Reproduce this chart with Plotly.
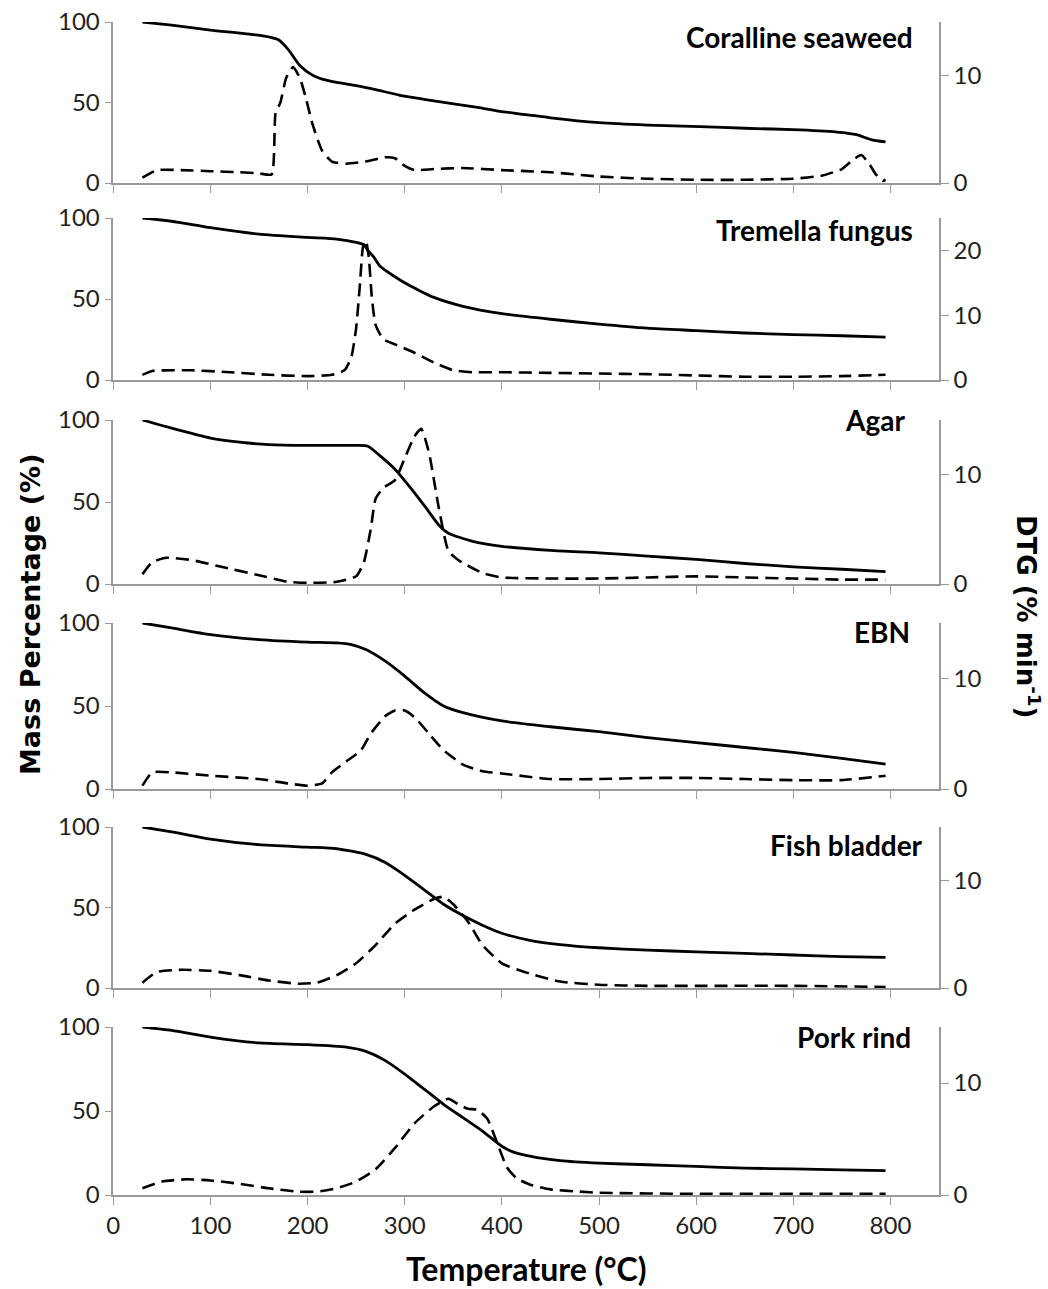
import plotly.graph_objects as go

# ---------------- data ----------------
names = ["Coralline seaweed", "Tremella fungus", "Agar", "EBN", "Fish bladder", "Pork rind"]

cor_mass_t = [30, 60, 100, 140, 162, 170, 180, 192, 205, 215, 230, 250, 270, 295, 320, 347, 375, 398, 425, 450, 500, 550, 604, 650, 707, 748, 765, 780, 795]
cor_mass_v = [100, 98, 95, 92.5, 90.5, 89, 83, 73, 67, 64.5, 62.5, 60.5, 58, 54.5, 52, 49.5, 47, 44.5, 42.5, 40.5, 37.5, 36, 35, 34, 33, 31.5, 30, 27, 25.5]
cor_dtg_t = [30, 45, 70, 100, 130, 150, 163, 167, 172, 178, 185, 192, 198, 205, 215, 225, 240, 260, 280, 290, 300, 310, 330, 360, 400, 450, 500, 550, 600, 650, 700, 730, 750, 762, 770, 778, 785, 792, 795]
cor_dtg_v = [0.5, 1.2, 1.2, 1.1, 1.0, 0.9, 0.8, 6.5, 7.5, 9.8, 10.8, 9.8, 8, 5.5, 3, 2, 1.8, 2.0, 2.4, 2.3, 1.6, 1.2, 1.3, 1.4, 1.2, 1.0, 0.6, 0.4, 0.3, 0.3, 0.4, 0.7, 1.3, 2.2, 2.6, 1.8, 0.8, 0.2, 0.3]

tre_mass_t = [30, 60, 100, 150, 200, 230, 250, 258, 262, 268, 275, 300, 330, 360, 400, 450, 500, 550, 600, 650, 700, 750, 795]
tre_mass_v = [100, 98, 94, 90, 88, 87, 85, 83.5, 80, 76, 70, 60, 51, 45.5, 41, 37.5, 34.5, 32, 30.5, 29, 28, 27.3, 26.5]
tre_dtg_t = [30, 40, 80, 120, 160, 200, 225, 238, 245, 250, 254, 257, 260, 263, 266, 270, 278, 290, 310, 330, 350, 370, 400, 450, 500, 550, 600, 650, 700, 750, 795]
tre_dtg_v = [0.8, 1.4, 1.5, 1.2, 0.8, 0.6, 0.8, 1.5, 3.5, 8, 15, 20.5, 21.5, 19, 13, 8.5, 6.3, 5.5, 4.2, 2.7, 1.5, 1.2, 1.2, 1.1, 1.0, 0.9, 0.7, 0.5, 0.5, 0.6, 0.8]

aga_mass_t = [30, 60, 100, 130, 160, 200, 250, 262, 275, 290, 300, 320, 335, 345, 370, 400, 450, 500, 550, 600, 650, 700, 750, 795]
aga_mass_v = [100, 95, 89, 86.5, 85, 84.5, 84.5, 84, 78, 70, 63, 48, 36, 31, 26, 23, 20.5, 19, 17, 15, 12.5, 10.5, 9, 7.5]
aga_dtg_t = [30, 40, 55, 80, 110, 150, 180, 200, 230, 250, 258, 265, 270, 278, 290, 300, 310, 317, 325, 335, 345, 355, 380, 400, 450, 500, 550, 600, 650, 700, 750, 795]
aga_dtg_v = [0.9, 2.0, 2.4, 2.2, 1.6, 0.8, 0.2, 0.1, 0.2, 0.7, 2, 5, 7.8, 8.8, 9.5, 11.5, 13.5, 14.2, 12, 7, 3, 2.2, 1.0, 0.6, 0.5, 0.5, 0.6, 0.7, 0.6, 0.5, 0.4, 0.4]

ebn_mass_t = [30, 60, 100, 150, 200, 230, 245, 260, 280, 300, 320, 340, 360, 400, 450, 500, 550, 600, 650, 700, 750, 795]
ebn_mass_v = [100, 97, 93, 90, 88.5, 88, 87, 84, 77, 68, 58, 50, 46, 41, 37.5, 34.5, 31, 28, 25, 22, 18.5, 15]
ebn_dtg_t = [30, 40, 60, 100, 150, 180, 200, 215, 225, 240, 255, 265, 280, 290, 300, 310, 325, 340, 360, 380, 400, 450, 500, 550, 600, 650, 700, 750, 795]
ebn_dtg_v = [0.3, 1.5, 1.5, 1.2, 0.9, 0.5, 0.3, 0.5, 1.5, 2.5, 3.5, 5, 6.6, 7.1, 7.1, 6.5, 5, 3.5, 2.2, 1.6, 1.4, 0.9, 0.9, 1.0, 1.0, 0.9, 0.8, 0.8, 1.2]

fis_mass_t = [30, 60, 100, 150, 200, 230, 260, 280, 300, 320, 340, 360, 380, 400, 430, 460, 500, 550, 600, 650, 700, 750, 795]
fis_mass_v = [100, 97, 92.5, 89, 87.5, 86.5, 83, 78, 70, 61, 52, 45, 39, 34, 29.5, 27, 25, 23.5, 22.5, 21.5, 20.5, 19.5, 19]
fis_dtg_t = [30, 45, 70, 100, 130, 160, 190, 210, 230, 250, 270, 290, 310, 330, 340, 350, 365, 380, 400, 430, 460, 500, 550, 600, 700, 795]
fis_dtg_v = [0.5, 1.5, 1.7, 1.6, 1.2, 0.7, 0.4, 0.5, 1.2, 2.3, 4, 6, 7.3, 8.3, 8.5, 7.8, 6.2, 4, 2.3, 1.3, 0.6, 0.3, 0.2, 0.2, 0.2, 0.1]

por_mass_t = [30, 60, 100, 150, 200, 240, 260, 280, 300, 320, 340, 360, 380, 400, 410, 430, 460, 500, 550, 600, 650, 700, 750, 795]
por_mass_v = [100, 98, 94, 90.5, 89.5, 88, 85.5, 80, 72, 63, 54, 46, 38, 29, 26, 23, 20.5, 19, 18, 17, 16, 15.5, 15, 14.5]
por_dtg_t = [30, 50, 75, 100, 130, 160, 190, 210, 230, 250, 270, 290, 310, 330, 345, 355, 365, 375, 385, 395, 405, 415, 430, 450, 480, 500, 600, 700, 795]
por_dtg_v = [0.6, 1.2, 1.4, 1.3, 1.0, 0.6, 0.3, 0.3, 0.6, 1.2, 2.3, 4.2, 6.4, 7.9, 8.6, 8.1, 7.7, 7.6, 6.8, 4.7, 2.5, 1.5, 0.9, 0.5, 0.3, 0.2, 0.1, 0.1, 0.1]

mass_t = [cor_mass_t, tre_mass_t, aga_mass_t, ebn_mass_t, fis_mass_t, por_mass_t]
mass_v = [cor_mass_v, tre_mass_v, aga_mass_v, ebn_mass_v, fis_mass_v, por_mass_v]
dtg_t = [cor_dtg_t, tre_dtg_t, aga_dtg_t, ebn_dtg_t, fis_dtg_t, por_dtg_t]
dtg_v = [cor_dtg_v, tre_dtg_v, aga_dtg_v, ebn_dtg_v, fis_dtg_v, por_dtg_v]
dtg_max = [15, 25, 15, 15, 15, 15]
dtg_ticks = [[0, 10], [0, 10, 20], [0, 10], [0, 10], [0, 10], [0, 10]]
x_ticks = [0, 100, 200, 300, 400, 500, 600, 700, 800]

# ---------------- layout ----------------
W, H = 1048, 1289
panel_px = [(22, 183), (218, 380), (420, 584), (623, 789), (827, 988), (1027, 1195)]
label_px = [(915, 37), (915, 230), (907, 420), (912, 632), (925, 845), (913, 1037)]
xl, xr = 113.3 / W, 939 / W
GRAY = "#9a9a9a"
TICKFONT = dict(family="Lato, Open Sans, sans-serif", size=24, color="#222")

fig = go.Figure()
layout = dict(width=W, height=H, margin=dict(l=0, r=0, t=0, b=0, pad=0, autoexpand=False),
              paper_bgcolor="white", plot_bgcolor="white", showlegend=False,
              annotations=[])

for i in range(6):
    xa = "x" if i == 0 else f"x{i+1}"
    ya = f"y{2*i+1}" if i > 0 else "y"
    yb = f"y{2*i+2}"
    fig.add_trace(go.Scatter(x=mass_t[i], y=mass_v[i], mode="lines", xaxis=xa, yaxis=ya,
                             line=dict(color="black", width=2.8, shape="spline", smoothing=0.6)))
    fig.add_trace(go.Scatter(x=dtg_t[i], y=dtg_v[i], mode="lines", xaxis=xa, yaxis=yb,
                             line=dict(color="black", width=2.6, dash="13px,7px", shape="spline", smoothing=0.5)))
    top, bot = panel_px[i]
    dom = [1 - bot / H, 1 - top / H]
    xkey = "xaxis" if i == 0 else f"xaxis{i+1}"
    ykey = "yaxis" if i == 0 else f"yaxis{2*i+1}"
    ykey2 = f"yaxis{2*i+2}"
    layout[xkey] = dict(domain=[xl, xr], range=[0, 850], anchor=ya, tickvals=x_ticks,
                        showticklabels=(i == 5), ticks="outside", ticklen=8, tickcolor=GRAY,
                        showline=True, linecolor=GRAY, linewidth=1.5, showgrid=False,
                        zeroline=False, tickfont=TICKFONT, automargin=False,
                        **({"matches": "x"} if i > 0 else {}))
    layout[ykey] = dict(domain=dom, range=[0, 100], anchor=xa, tickvals=[0, 50, 100],
                        ticks="outside", ticklen=7, tickcolor=GRAY, showline=True,
                        linecolor=GRAY, linewidth=1.5, showgrid=False, zeroline=False,
                        tickfont=TICKFONT, automargin=False)
    layout[ykey2] = dict(range=[0, dtg_max[i]], anchor=xa, overlaying=ya, side="right",
                         tickvals=dtg_ticks[i], ticks="outside", ticklen=8, tickcolor=GRAY,
                         showline=True, linecolor=GRAY, linewidth=1.5, showgrid=False,
                         zeroline=False, tickfont=TICKFONT, automargin=False)
    lx, ly = label_px[i]
    layout["annotations"].append(dict(text=f"<b>{names[i]}</b>", x=lx / W, y=1 - ly / H,
                                      xref="paper", yref="paper", xanchor="right", yanchor="middle",
                                      showarrow=False,
                                      font=dict(family="Lato, Open Sans, sans-serif", size=28, color="black")))

layout["annotations"] += [
    dict(text="<b>Mass Percentage (%)</b>", x=30 / W, y=1 - 615 / H, xref="paper", yref="paper",
         textangle=-90, showarrow=False, xanchor="center", yanchor="middle",
         font=dict(family="DejaVu Sans, Verdana, sans-serif", size=27, color="black")),
    dict(text="<b>DTG (% min<sup>-1</sup>)</b>", x=1028 / W, y=1 - 616 / H, xref="paper", yref="paper",
         textangle=90, showarrow=False, xanchor="center", yanchor="middle",
         font=dict(family="DejaVu Sans, Verdana, sans-serif", size=26, color="black")),
    dict(text="<b>Temperature (°C)</b>", x=526 / W, y=1 - 1268 / H, xref="paper", yref="paper",
         showarrow=False, xanchor="center", yanchor="middle",
         font=dict(family="Lato, Open Sans, sans-serif", size=32, color="black")),
]

fig.update_layout(**layout)
fig.write_html("out.html")
